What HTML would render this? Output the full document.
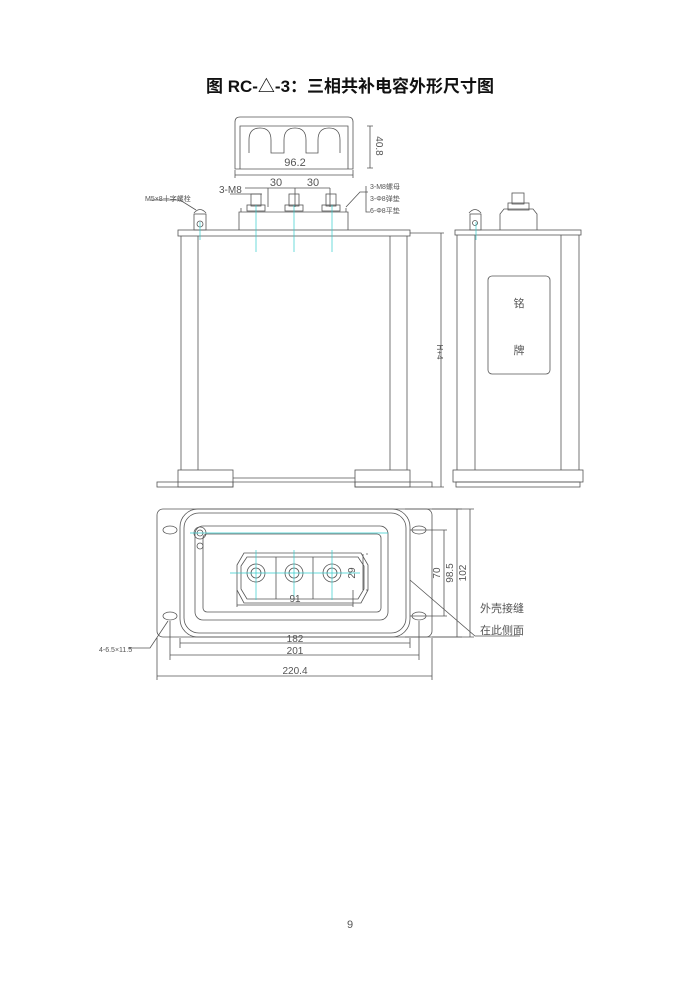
<!DOCTYPE html>
<html><head><meta charset="utf-8"><style>
html,body{margin:0;padding:0;background:#fff;}
svg{display:block}
text{font-family:"Liberation Sans","Noto Sans CJK SC",sans-serif;}
</style></head><body>
<svg width="700" height="990" viewBox="0 0 700 990" xmlns="http://www.w3.org/2000/svg">
<text x="350" y="92" text-anchor="middle" font-size="17" font-weight="bold" fill="#111">图 RC-△-3：三相共补电容外形尺寸图</text>
<g fill="none" stroke="#555" stroke-width="0.8">
<!-- cover top -->
<path d="M235 169 V122 Q235 117 240 117 H348 Q353 117 353 122 V169 Z"/>
<path d="M240 169 V126 H348 V169"/>
<path d="M249 153 V140 Q249 128 260 128 Q271 128 271 140 V153 H284 V140 Q284 128 295 128 Q306 128 306 140 V153 H318 V140 Q318 128 329 128 Q340 128 340 140 V153"/>
<path d="M370 126 V168 M367 126 H373 M367 168 H373"/>
<path d="M235 170 V178 M353 170 V178 M235 175 H353"/>
<!-- front view -->
<path d="M245 188 H330 M268 188 V207 M295 188 V207 M330 188 V207"/>
<path d="M230 194 H262"/>
<rect x="178" y="230" width="232" height="6"/>
<path d="M181 236 V470 M198 236 V470 M390 236 V470 M407 236 V470"/>
<path d="M239 230 V212 H348 V230"/>
<path d="M241 212 V208 M346 212 V208"/>
<rect x="251" y="194" width="10" height="12"/><rect x="247" y="205" width="18" height="6"/>
<rect x="289" y="194" width="10" height="12"/><rect x="285" y="205" width="18" height="6"/>
<rect x="326" y="194" width="10" height="12"/><rect x="322" y="205" width="18" height="6"/>
<rect x="194" y="214" width="12" height="16"/><circle cx="200" cy="224" r="3"/>
<path d="M194 213 Q200 206 206 213"/>
<path d="M150 200 H180 L196 210"/>
<path d="M346 207 L360 192 H368 M366 186 V212 H370"/>
<rect x="178" y="470" width="55" height="17"/><rect x="157" y="482" width="76" height="5"/>
<rect x="355" y="470" width="55" height="17"/><rect x="355" y="482" width="77" height="5"/>
<path d="M233 478 H355 M233 482 H355"/>
<path d="M441 233 V487 M410 233 H444 M432 487 H444"/>
<!-- side view -->
<rect x="455" y="230" width="126" height="5"/>
<path d="M457 235 V470 M475 235 V470 M561 235 V470 M579 235 V470"/>
<rect x="488" y="276" width="62" height="98" rx="4"/>
<rect x="453" y="470" width="130" height="12"/><rect x="456" y="482" width="124" height="5"/>
<path d="M500 230 V214 L504 209 H533 L537 214 V230"/>
<rect x="508" y="203" width="21" height="7"/><rect x="512" y="193" width="12" height="11"/>
<rect x="470" y="214" width="11" height="16"/><circle cx="475" cy="223" r="2.5"/>
<path d="M469 213 Q475 206 481 213"/>
<!-- bottom view -->
<rect x="157" y="509" width="275" height="128" rx="6"/>
<rect x="180" y="509" width="230" height="128" rx="18"/>
<rect x="184" y="513" width="222" height="120" rx="15"/>
<rect x="195" y="526" width="193" height="94" rx="8"/>
<rect x="203" y="534" width="178" height="78" rx="4"/>
<ellipse cx="170" cy="530" rx="7" ry="4"/><ellipse cx="419" cy="530" rx="7" ry="4"/>
<ellipse cx="170" cy="616" rx="7" ry="4"/><ellipse cx="419" cy="616" rx="7" ry="4"/>
<circle cx="200" cy="533" r="6"/><circle cx="200" cy="533" r="3"/><circle cx="200" cy="546" r="3"/>
<path d="M237 565 L244 553 H361 L368 565 V590 L361 603 H244 L237 590 Z"/>
<path d="M241 566 L247 557 H358 L364 566 V589 L358 599 H247 L241 589 Z"/>
<path d="M276 557 V599 M313 557 V599"/>
<circle cx="256" cy="573" r="9"/><circle cx="256" cy="573" r="5"/>
<circle cx="294" cy="573" r="9"/><circle cx="294" cy="573" r="5"/>
<circle cx="332" cy="573" r="9"/><circle cx="332" cy="573" r="5"/>
<path d="M366 554 H368 M366 590 H368 M363 554 V590"/>
<path d="M237 605 H353 M237 590 V607 M353 590 V607"/>
<path d="M180 638 V648 M410 638 V648 M180 643 H410"/>
<path d="M170 621 V660 M419 621 V660 M170 655 H419"/>
<path d="M157 638 V680 M432 638 V680 M157 676 H432"/>
<path d="M410 530 H447 M410 616 H447 M444 530 V616"/>
<path d="M405 509 H462 M405 637 H462 M457 509 V637"/>
<path d="M432 509 H474 M432 637 H474 M470 509 V637"/>
<path d="M410 580 L475 636 H520"/>
<path d="M168 621 L150 648 H128"/>
</g>
<g fill="none" stroke="#3cc" stroke-width="0.7">
<path d="M256 205 V252 M294 205 V252 M332 205 V252 M200 222 V240 M476 222 V240"/>
<path d="M230 573 H360 M256 550 V600 M294 550 V600 M332 550 V600 M190 533 H388"/>
</g>
<g fill="#555" font-size="10">
<text x="295" y="166" text-anchor="middle" font-size="11">96.2</text>
<text x="376" y="146" font-size="10" transform="rotate(90 376 146)" text-anchor="middle">40.8</text>
<text x="276" y="186" text-anchor="middle" font-size="11">30</text>
<text x="313" y="186" text-anchor="middle" font-size="11">30</text>
<text x="219" y="193" font-size="10">3-M8</text>
<text x="145" y="201" font-size="7">M5×8十字螺栓</text>
<text x="370" y="189" font-size="7">3-M8螺母</text>
<text x="370" y="201" font-size="7">3-Φ8弹垫</text>
<text x="370" y="213" font-size="7">6-Φ8平垫</text>
<text x="437" y="352" font-size="8" transform="rotate(90 437 352)" text-anchor="middle">H+4</text>
<text x="519" y="307" font-size="11" text-anchor="middle">铭</text>
<text x="519" y="354" font-size="11" text-anchor="middle">牌</text>
<text x="295" y="602" font-size="10" text-anchor="middle">91</text>
<text x="355" y="573" font-size="10" transform="rotate(-90 355 573)" text-anchor="middle">29</text>
<text x="295" y="642" font-size="10" text-anchor="middle">182</text>
<text x="295" y="654" font-size="10" text-anchor="middle">201</text>
<text x="295" y="674" font-size="10" text-anchor="middle">220.4</text>
<text x="440" y="573" font-size="10" transform="rotate(-90 440 573)" text-anchor="middle">70</text>
<text x="453" y="573" font-size="10" transform="rotate(-90 453 573)" text-anchor="middle">98.5</text>
<text x="466" y="573" font-size="10" transform="rotate(-90 466 573)" text-anchor="middle">102</text>
<text x="480" y="612" font-size="11">外壳接缝</text>
<text x="480" y="634" font-size="11">在此侧面</text>
<text x="99" y="652" font-size="7">4-6.5×11.5</text>
<text x="350" y="928" font-size="11" text-anchor="middle" font-family="Liberation Serif,serif">9</text>
</g>
</svg>
</body></html>
